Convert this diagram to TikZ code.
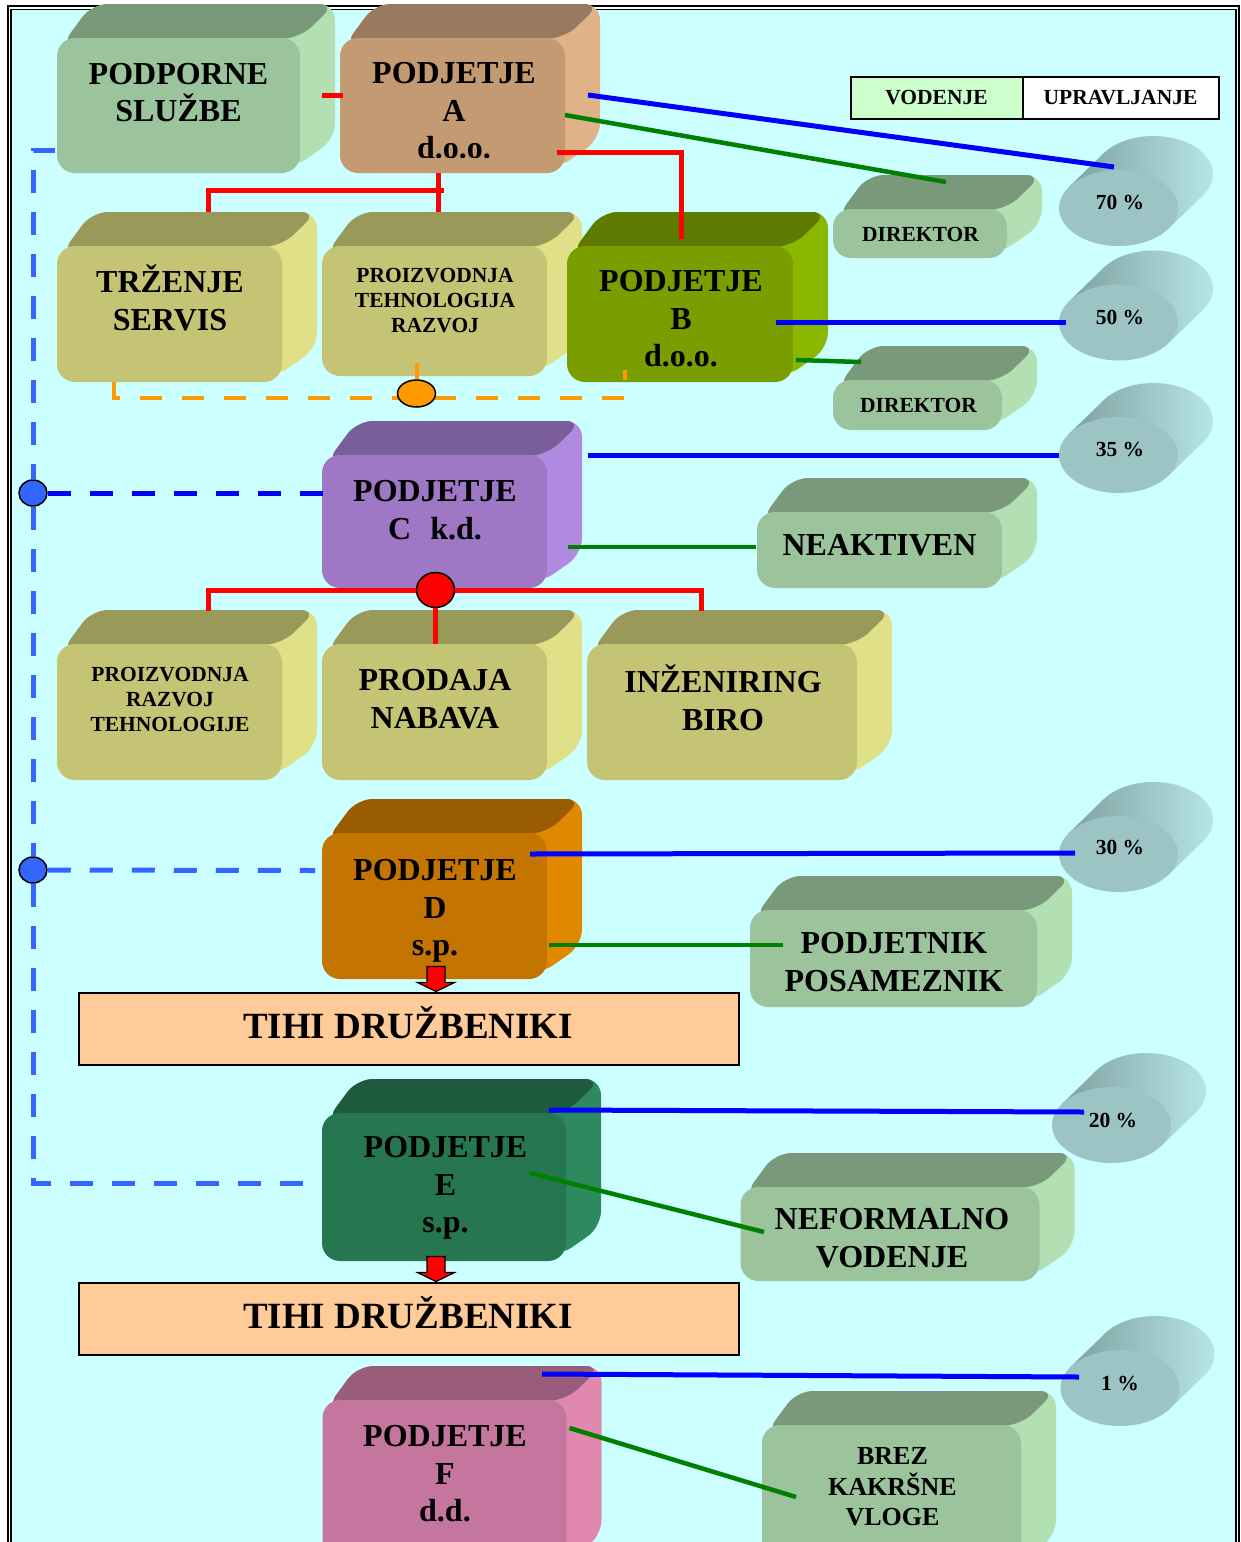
\documentclass[tikz,border=0pt]{standalone}
\usepackage{fontspec}
\setmainfont{Liberation Serif}
\usetikzlibrary{calc,positioning,shapes.geometric}

\definecolor{cyanbg}{HTML}{CCFFFF}
\definecolor{sagef}{HTML}{9CC49C}
\definecolor{saget}{HTML}{7A987A}
\definecolor{sages}{HTML}{B2E0B2}
\definecolor{tanf}{HTML}{C49A72}
\definecolor{tant}{HTML}{997A5E}
\definecolor{tans}{HTML}{E0B288}
\definecolor{olvf}{HTML}{C4C474}
\definecolor{olvt}{HTML}{99995A}
\definecolor{olvs}{HTML}{E0E088}
\definecolor{limf}{HTML}{7A9E00}
\definecolor{limt}{HTML}{5E7A00}
\definecolor{lims}{HTML}{8AB800}
\definecolor{viof}{HTML}{9E78C4}
\definecolor{viot}{HTML}{7A5E99}
\definecolor{vios}{HTML}{B08AE0}
\definecolor{ochf}{HTML}{C47400}
\definecolor{ocht}{HTML}{995C00}
\definecolor{ochs}{HTML}{E08800}
\definecolor{dgrf}{HTML}{267650}
\definecolor{dgrt}{HTML}{1E5A3E}
\definecolor{dgrs}{HTML}{2E8A5E}
\definecolor{pnkf}{HTML}{C4769E}
\definecolor{pnkt}{HTML}{995C7A}
\definecolor{pnks}{HTML}{E088B0}
\definecolor{cylf}{HTML}{9CC4C4}
\definecolor{cylt}{HTML}{7A9C9C}
\definecolor{cyls}{HTML}{B8E6E6}
\definecolor{tihifill}{HTML}{FFCC99}
\definecolor{vodfill}{HTML}{CCFFCC}
\definecolor{ownblue}{HTML}{0000FF}
\definecolor{grpblue}{HTML}{3366FF}
\definecolor{vodgreen}{HTML}{008000}
\definecolor{orng}{HTML}{FF9900}

\pgfdeclarelayer{canvas}
\pgfdeclarelayer{back}
\pgfsetlayers{canvas,back,main}

\begin{document}
\begin{tikzpicture}[x=1pt,y=1pt,yscale=-1,xscale=1,
  face/.style={rounded corners=18, inner sep=0, outer sep=0},
  sage/.style={face, fill=sagef}, tanb/.style={face, fill=tanf},
  olv/.style={face, fill=olvf}, lim/.style={face, fill=limf},
  vio/.style={face, fill=viof}, och/.style={face, fill=ochf},
  dgr/.style={face, fill=dgrf}, pnk/.style={face, fill=pnkf},
  cyl/.style={ellipse, fill=cylf, inner sep=0, minimum width=119, minimum height=76},
  txt/.style={font=\bfseries\fontsize{32}{37.5}\selectfont, align=center, inner sep=0},
  txts/.style={font=\bfseries\fontsize{21.5}{25}\selectfont, align=center, inner sep=0},
  txtm/.style={font=\bfseries\fontsize{26}{30.5}\selectfont, align=center, inner sep=0},
  txtl/.style={font=\bfseries\fontsize{37}{44}\selectfont, inner sep=0},
  tihi/.style={draw=black, line width=2, fill=tihifill, minimum width=660, minimum height=72, inner sep=0},
  leg/.style={draw=black, line width=2, minimum height=42, inner sep=0, outer sep=0, txts},
  own/.style={draw=ownblue, line width=5},
  vod/.style={draw=vodgreen, line width=4.5},
  tree/.style={draw=red, line width=5},
  grp/.style={draw=grpblue, line width=5, dash pattern=on 23pt off 19pt},
  orngline/.style={draw=orng, line width=4, dash pattern=on 22pt off 20pt},
  ball/.style={ellipse, draw=black, line width=1.5, inner sep=0},
  blockarrow/.style={fill=red, draw=black, line width=1.2}]

\useasboundingbox (0,0) rectangle (1241,1542);

%Background and frame
\begin{pgfonlayer}{canvas}
\fill[white] (0,0) rectangle (1241,1542);
\fill[cyanbg] (11,9) rectangle (1236,1580);
\draw[line width=2] (8,6) rectangle (1239,1580);
\draw[line width=1.2] (11,9.5) rectangle (1236,1580);
\end{pgfonlayer}

%Shapes: front faces
\node[sage, minimum width=243, minimum height=135] (pp) at (178.5,105.5) {};
\node[tanb, minimum width=225, minimum height=135] (pa) at (452.5,105.5) {};
\node[olv, minimum width=225, minimum height=136] (trz) at (169.5,314) {};
\node[olv, minimum width=225, minimum height=130] (ptr) at (434.5,311) {};
\node[lim, minimum width=226, minimum height=136] (pb) at (680,314) {};
\node[sage, minimum width=174, minimum height=49] (d1) at (920,233.5) {};
\node[sage, minimum width=169, minimum height=50] (d2) at (917.5,405) {};
\node[vio, minimum width=225, minimum height=133] (pc) at (434.5,521.5) {};
\node[sage, minimum width=245, minimum height=76] (nk) at (879.5,550) {};
\node[olv, minimum width=225, minimum height=136] (prv) at (169.5,712) {};
\node[olv, minimum width=225, minimum height=136] (prn) at (434.5,712) {};
\node[olv, minimum width=270, minimum height=136] (inz) at (722,712) {};
\node[och, minimum width=225, minimum height=146] (pd) at (434.5,906) {};
\node[sage, minimum width=287, minimum height=97] (pos) at (893.5,958.5) {};
\node[tihi] (t1) at (408.5,1028.5) {};
\node[dgr, minimum width=244, minimum height=148] (pe) at (444,1187) {};
\node[sage, minimum width=299, minimum height=94] (nef) at (890,1234) {};
\node[tihi] (t2) at (408.5,1318.5) {};
\node[pnk, minimum width=244, minimum height=170] (pf) at (444.5,1485) {};
\node[sage, minimum width=259, minimum height=145] (brz) at (891.5,1497.5) {};

%Shapes: share cylinders
\node[cyl] (c70) at (1118.5,208) {};
\node[cyl] (c50) at (1118.5,322.5) {};
\node[cyl] (c35) at (1118.5,455) {};
\node[cyl] (c30) at (1118.5,854) {};
\node[cyl] (c20) at (1111.5,1125) {};
\node[cyl] (c1) at (1120,1388) {};

%Legend
\node[leg, fill=vodfill, minimum width=172] (lv) at (936.5,98) {VODENJE};
\node[leg, fill=white, minimum width=196, right=0pt of lv] (lu) {UPRAVLJANJE};

%Depth of the blocks
\begin{pgfonlayer}{back}
\foreach \n/\tp/\sd in {pp/saget/sages, pa/tant/tans, trz/olvt/olvs, ptr/olvt/olvs, pb/limt/lims,
    d1/saget/sages, d2/saget/sages, pc/viot/vios, nk/saget/sages, prv/olvt/olvs, prn/olvt/olvs,
    inz/olvt/olvs, pd/ocht/ochs, pos/saget/sages, pe/dgrt/dgrs, nef/saget/sages, pf/pnkt/pnks,
    brz/saget/sages}{
  \fill[\sd, rounded corners=16] ($(\n.north west)+(4,8)$) -- ($(\n.north west)+(35,-34)$)
    -- ($(\n.north east)+(35,-34)$) -- ($(\n.south east)+(35,-34)$) -- ($(\n.south east)+(-8,-4)$) -- cycle;
  \fill[\tp, rounded corners=16] ($(\n.north west)+(4,8)$) -- ($(\n.north west)+(35,-34)$)
    -- ($(\n.north east)+(35,-34)$) -- (\n.north east) -- cycle;
}
\foreach \n in {c70,c50,c35,c30,c20,c1}{
  \begin{scope}
    \clip ($(\n.center)+(35,-34)$) ellipse [x radius=59.5, y radius=38];
    \shade[left color=cylt, right color=cyls] ($(\n.center)+(-60,-75)$) rectangle ($(\n.center)+(96,40)$);
  \end{scope}
  \begin{scope}
    \clip ($(\n.center)+(50.1,20.5)$) -- ($(\n.center)+(85.1,-13.5)$) -- ($(\n.center)+(-15.1,-54.5)$) -- ($(\n.center)+(-50.1,-20.5)$) -- cycle;
    \shade[left color=cylt, right color=cyls] ($(\n.center)+(-60,-75)$) rectangle ($(\n.center)+(96,40)$);
  \end{scope}
}
\end{pgfonlayer}

% Text Node
\node[txt] (ppt) at (178.5,92.5) {PODPORNE\\SLUŽBE};
\begin{scope}
\clip (pa.north west) rectangle ($(pa.south east)+(0,-16)$);
\node[txt] (pat) at (454,111) {PODJETJE\\A\\d.o.o.};
\end{scope}
\node[txt] (trzt) at (170,298) {TRŽENJE\\SERVIS};
\node[txts] (ptrt) at (435,301) {PROIZVODNJA\\TEHNOLOGIJA\\RAZVOJ};
\node[txt] (pbt) at (681,319) {PODJETJE\\B\\d.o.o.};
\node[txts] (d1t) at (920.5,234) {DIREKTOR};
\node[txts] (d2t) at (918.5,405) {DIREKTOR};
\node[txt] (pct) at (435,510) {PODJETJE\\C\hspace{0.6em}k.d.};
\node[txt] (nkt) at (879.5,545.5) {NEAKTIVEN};
\node[txts] (prvt) at (170,699) {PROIZVODNJA\\RAZVOJ\\TEHNOLOGIJE};
\node[txt] (prnt) at (435,699) {PRODAJA\\NABAVA};
\node[txt] (inzt) at (723,698) {INŽENIRING\\BIRO};
\node[txt] (pdt) at (435,911) {PODJETJE\\D\\s.p.};
\node[txt] (post) at (894,962) {PODJETNIK\\POSAMEZNIK};
\node[txtl] (t1t) at (408,1022.5) {TIHI DRUŽBENIKI};
\node[txt] (pet) at (445.5,1188) {PODJETJE\\E\\s.p.};
\node[txt] (neft) at (892,1238) {NEFORMALNO\\VODENJE};
\node[txtl] (t2t) at (408,1313) {TIHI DRUŽBENIKI};
\node[txt] (pft) at (445,1474) {PODJETJE\\F\\d.d.};
\node[txtm] (brzt) at (892.5,1487) {BREZ\\KAKRŠNE\\VLOGE};
\node[txts] (c70t) at (1120,202) {70 \%};
\node[txts] (c50t) at (1120,317) {50 \%};
\node[txts] (c35t) at (1120,449) {35 \%};
\node[txts] (c30t) at (1120,847) {30 \%};
\node[txts] (c20t) at (1113,1120) {20 \%};
\node[txts] (c1t) at (1120,1383) {1 \%};

%Straight Lines: company A tree
\draw[tree] ($(pp.east)+(22,-10)$) -- ($(pa.west)+(3,-10)$);
\draw[tree] ($(pa.south)+(-14,0)$) -- ($(ptr.north)+(4,-34)$);
\draw[tree] ($(trz.north)+(38.5,-34)$) |- ($(ptr.north)+(9,-55.5)$);
\draw[tree] ($(pa.south east)+(-8,-21)$) -| ($(pb.north)+(1,-7)$);

%Orange dashed link
\draw[orngline] ($(trz.south)+(-56,0)$) |- ($(pb.south)+(-55,16)$) -- ($(pb.south)+(-55,-12)$);
\node[ball, fill=orng, minimum width=38, minimum height=27] (oc) at (416.5,393.5) {};
\draw[orngline, solid] ($(ptr.south)+(-18,-13)$) -- (oc);

%Company C tree
\node[ball, fill=red, minimum width=38, minimum height=35] (rc) at (435.5,590) {};
\draw[tree] ($(prv.north)+(38.5,-33)$) |- (rc) -| ($(inz.north)+(-21,-33)$);
\draw[tree] (rc) -- (rc |- prn.north);

%Dashed group line
\node[ball, fill=grpblue, minimum width=28, minimum height=26] (bc1) at (33,493) {};
\node[ball, fill=grpblue, minimum width=28, minimum height=26] (bc2) at (33,870) {};
\draw[grp] ($(pp.south west)+(-2,-23)$) -| (bc1);
\draw[grp] (bc1) -- (bc2);
\draw[grp] (bc2) |- ($(pe.west)+(-7,-4)$);
\draw[grp, draw=ownblue] (bc1) -- ($(pc.west)+(18,-28.5)$);
\draw[grp] (bc2) -- ($(pd.west)+(-7,-35.5)$);

%Ownership lines (UPRAVLJANJE)
\draw[own] ($(pa.east)+(23,-10.5)$) -- ($(c70.center)+(-4.5,-41)$);
\draw[own] ($(pb.east)+(-17,8.5)$) -- ($(c50.west)+(7,0)$);
\draw[own] ($(pc.north east)+(41,0)$) -- (c35.west);
\draw[own] ($(pd.north east)+(-17,21)$) -- ($(c30.center)+(-43.5,-1)$);
\draw[own] ($(pe.north east)+(-17,-3)$) -- ($(c20.center)+(-27.5,-13)$);
\draw[own] ($(pf.north east)+(-24.5,-26)$) -- ($(c1.center)+(-41,-11)$);

%Management lines (VODENJE)
\draw[vod] ($(pa.east)+(0,9.5)$) -- ($(d1.north)+(26,-27)$);
\draw[vod] ($(pb.south east)+(3,-22)$) -- ($(d2.north)+(-56.5,-18)$);
\draw[vod] ($(pc.east)+(21,25.5)$) -- ($(nk.west)+(-1,-3)$);
\draw[vod] ($(pd.east)+(2,39)$) -- ($(pos.west)+(33,-13.5)$);
\draw[vod] ($(pe.east)+(-36,-14)$) -- ($(nef.west)+(23.5,-2)$);
\draw[vod] ($(pf.east)+(3,-57)$) -- ($(brz.west)+(34,-0.5)$);

%Block arrows to TIHI DRUZBENIKI
\filldraw[blockarrow] ($(t1.north)+(27.5,0)$) -- ++(-18.5,-9) -- ++(9.5,0) -- ++(0,-16) -- ++(18,0) -- ++(0,16) -- ++(9.5,0) -- cycle;
\filldraw[blockarrow] ($(t2.north)+(27.5,0)$) -- ++(-18.5,-9) -- ++(9.5,0) -- ++(0,-16) -- ++(18,0) -- ++(0,16) -- ++(9.5,0) -- cycle;

\end{tikzpicture}
\end{document}
